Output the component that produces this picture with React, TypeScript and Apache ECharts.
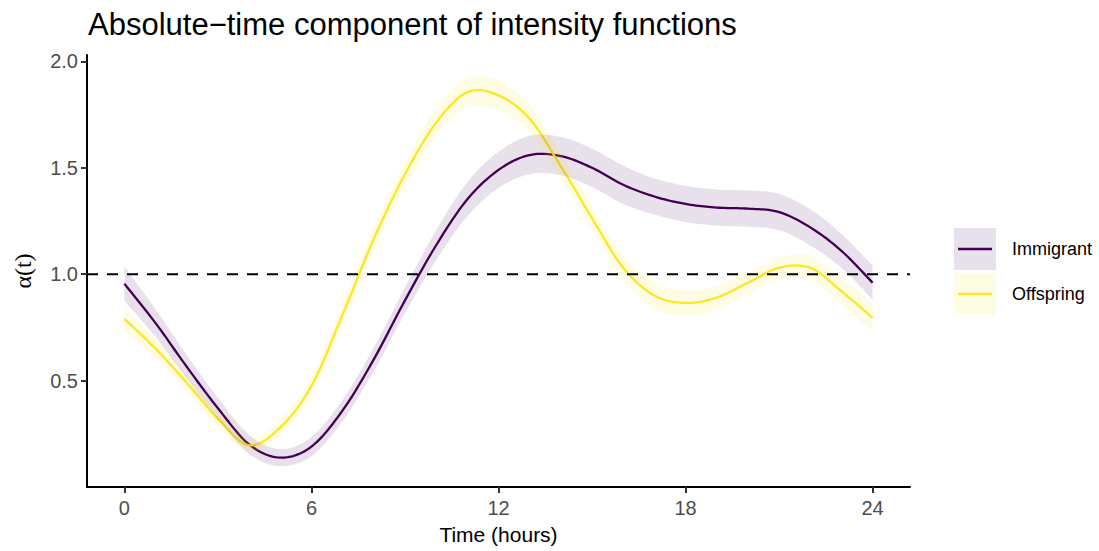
import React, { useEffect, useRef } from "react";
import * as echarts from "echarts";

const hours = [0, 1, 2, 3, 4, 5, 6, 7, 8, 9, 10, 11, 12, 13, 14, 15, 16, 17, 18, 19, 20, 21, 22, 23, 24];
const immigrantFit = [0.955, 0.77, 0.565, 0.37, 0.2, 0.138, 0.19, 0.36, 0.6, 0.877, 1.136, 1.352, 1.49, 1.56, 1.555, 1.5, 1.42, 1.365, 1.33, 1.313, 1.308, 1.292, 1.22, 1.11, 0.96];
const immigrantHalf = [0.08, 0.065, 0.055, 0.05, 0.045, 0.04, 0.045, 0.05, 0.055, 0.06, 0.07, 0.08, 0.085, 0.09, 0.09, 0.09, 0.09, 0.085, 0.085, 0.085, 0.085, 0.085, 0.085, 0.08, 0.08];
const offspringFit = [0.79, 0.65, 0.49, 0.32, 0.196, 0.28, 0.475, 0.81, 1.166, 1.47, 1.712, 1.855, 1.84, 1.73, 1.507, 1.263, 1.03, 0.9, 0.865, 0.89, 0.96, 1.03, 1.03, 0.92, 0.795];
const offspringHalf = [0.055, 0.045, 0.04, 0.035, 0.03, 0.035, 0.04, 0.05, 0.055, 0.06, 0.065, 0.07, 0.07, 0.065, 0.06, 0.055, 0.055, 0.06, 0.06, 0.055, 0.05, 0.05, 0.055, 0.06, 0.065];
const xTicks = [0, 6, 12, 18, 24];
const yTicks = [0.5, 1.0, 1.5, 2.0];
const seriesNames = ["Immigrant", "Offspring"];
const referenceLevel = 1;
const X_MIN = -1.2;
const X_MAX = 25.2;

const PURPLE = "#440154";
const YELLOW = "#FDE725";
const PURPLE_FILL = "rgba(68,1,84,0.12)";
const YELLOW_FILL = "rgba(253,231,37,0.12)";
const FONT = "Liberation Sans";

// Catmull-Rom drawing of pixel points (rendering only)
function spline(pts: number[][], seg = 12): number[][] {
  const out: number[][] = [];
  const n = pts.length;
  for (let i = 0; i < n - 1; i++) {
    const p0 = pts[Math.max(0, i - 1)];
    const p1 = pts[i];
    const p2 = pts[i + 1];
    const p3 = pts[Math.min(n - 1, i + 2)];
    for (let s = 0; s < seg; s++) {
      const t = s / seg;
      const t2 = t * t;
      const t3 = t2 * t;
      const f = (a: number, b: number, c: number, d: number) =>
        0.5 * (2 * b + (-a + c) * t + (2 * a - 5 * b + 4 * c - d) * t2 + (-a + 3 * b - 3 * c + d) * t3);
      out.push([f(p0[0], p1[0], p2[0], p3[0]), f(p0[1], p1[1], p2[1], p3[1])]);
    }
  }
  out.push(pts[n - 1]);
  return out;
}

function bandSeries(name: string, fit: number[], half: number[], fill: string) {
  return {
    type: "custom",
    name: name + "-band",
    data: hours.map((h, i) => [h, fit[i]]),
    silent: true,
    clip: true,
    z: 4,
    renderItem: (params: any, api: any) => {
      if (params.dataIndex !== 0) return null;
      const up = spline(hours.map((h, i) => api.coord([h, fit[i] + half[i]])));
      const lo = spline(hours.map((h, i) => api.coord([h, fit[i] - half[i]])));
      return {
        type: "polygon",
        shape: { points: up.concat(lo.reverse()) },
        style: { fill, stroke: "none" },
      };
    },
  };
}

function lineSeries(name: string, fit: number[], color: string) {
  return {
    type: "custom",
    name,
    data: hours.map((h, i) => [h, fit[i]]),
    silent: true,
    clip: true,
    z: 3,
    renderItem: (params: any, api: any) => {
      if (params.dataIndex !== 0) return null;
      const pts = spline(hours.map((h, i) => api.coord([h, fit[i]])));
      return {
        type: "polyline",
        shape: { points: pts },
        style: { stroke: color, lineWidth: 2.3, fill: "none", lineJoin: "round" },
      };
    },
  };
}

export default function App() {
  const ref = useRef<HTMLDivElement>(null);
  useEffect(() => {
    if (!ref.current) return;
    const chart = echarts.init(ref.current, null, { renderer: "svg" });
    const option: any = {
      animation: false,
      backgroundColor: "#ffffff",
      title: {
        text: "Absolute\u2212time component of intensity functions",
        left: 83,
        top: 4,
        textStyle: { fontFamily: FONT, fontSize: 31, fontWeight: "normal", color: "#000" },
      },
      grid: { left: 87, top: 55, width: 823, height: 432, outerBoundsMode: "none", containLabel: false },
      xAxis: {
        type: "value",
        min: X_MIN,
        max: X_MAX,
        name: "Time (hours)",
        nameLocation: "middle",
        nameGap: 37,
        nameTextStyle: { fontFamily: FONT, fontSize: 21, color: "#000" },
        axisLine: { onZero: false, lineStyle: { color: "#000", width: 2 } },
        axisTick: { customValues: xTicks, length: 6, lineStyle: { color: "#333", width: 2 } },
        axisLabel: { customValues: xTicks, fontFamily: FONT, fontSize: 20, color: "#4D4D4D", margin: 11 },
        splitLine: { show: false },
      },
      yAxis: {
        type: "value",
        min: 0,
        max: 2.03,
        name: "\u03b1(t)",
        nameLocation: "middle",
        nameRotate: 90,
        nameGap: 52,
        nameTextStyle: { fontFamily: "Liberation Serif", fontSize: 24, color: "#000" },
        axisLine: { onZero: false, lineStyle: { color: "#000", width: 2 } },
        axisTick: { customValues: yTicks, length: 6, lineStyle: { color: "#333", width: 2 } },
        axisLabel: {
          customValues: yTicks,
          fontFamily: FONT,
          fontSize: 20,
          color: "#4D4D4D",
          margin: 9,
          formatter: (v: number) => v.toFixed(1),
        },
        splitLine: { show: false },
      },
      series: [
        lineSeries(seriesNames[0], immigrantFit, PURPLE),
        lineSeries(seriesNames[1], offspringFit, YELLOW),
        bandSeries(seriesNames[0], immigrantFit, immigrantHalf, PURPLE_FILL),
        bandSeries(seriesNames[1], offspringFit, offspringHalf, YELLOW_FILL),
        {
          type: "line",
          name: "reference",
          data: [
            [X_MIN, referenceLevel],
            [X_MAX, referenceLevel],
          ],
          symbol: "none",
          silent: true,
          lineStyle: { color: "#000", width: 2, type: [11, 9] },
          z: 5,
        },
      ],
      graphic: [
        { type: "rect", shape: { x: 954, y: 228, width: 42, height: 42 }, style: { fill: PURPLE_FILL } },
        { type: "line", shape: { x1: 958, y1: 249, x2: 992, y2: 249 }, style: { stroke: PURPLE, lineWidth: 2.3 } },
        {
          type: "text",
          x: 1012,
          y: 249,
          style: { text: seriesNames[0], fontFamily: FONT, fontSize: 18, fill: "#000", verticalAlign: "middle" },
        },
        { type: "rect", shape: { x: 954, y: 273, width: 42, height: 42 }, style: { fill: YELLOW_FILL } },
        { type: "line", shape: { x1: 958, y1: 294, x2: 992, y2: 294 }, style: { stroke: YELLOW, lineWidth: 2.3 } },
        {
          type: "text",
          x: 1012,
          y: 294,
          style: { text: seriesNames[1], fontFamily: FONT, fontSize: 18, fill: "#000", verticalAlign: "middle" },
        },
      ],
    };
    chart.setOption(option);
    return () => chart.dispose();
  }, []);
  return (
    <div
      ref={ref}
      style={{ position: "fixed", left: 0, top: 0, width: 1099, height: 551, background: "#fff" }}
    />
  );
}
